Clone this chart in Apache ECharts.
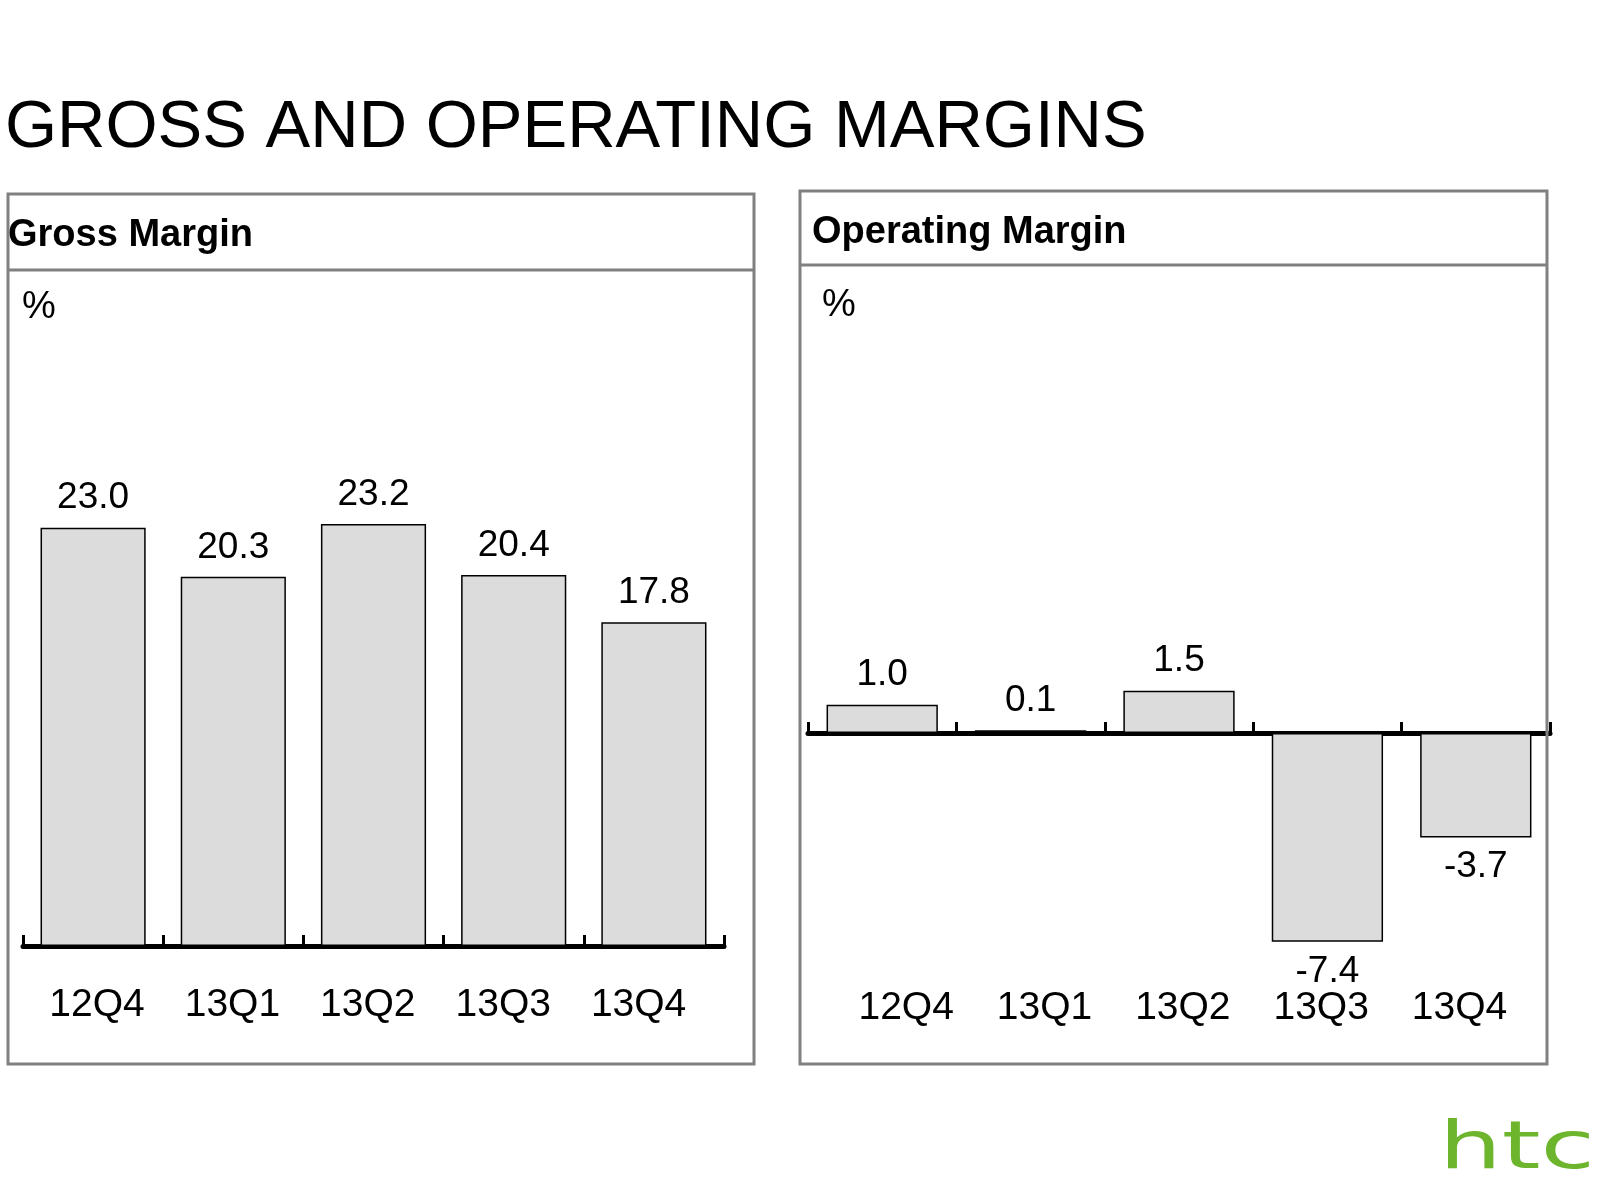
<!DOCTYPE html>
<html>
<head>
<meta charset="utf-8">
<script src="https://cdn.jsdelivr.net/npm/echarts@6/dist/echarts.min.js"></script>
<style>
  html, body { margin: 0; padding: 0; background: #ffffff; }
  #chart { width: 1600px; height: 1200px; }
</style>
</head>
<body>
<div id="chart"></div>
<script>
// ---- Data ----
var quarters = ['12Q4', '13Q1', '13Q2', '13Q3', '13Q4'];
var grossMargin = [23.0, 20.3, 23.2, 20.4, 17.8];
var operatingMargin = [1.0, 0.1, 1.5, -7.4, -3.7];
var mainTitle = 'GROSS AND OPERATING MARGINS';
var leftPanelTitle = 'Gross Margin';
var rightPanelTitle = 'Operating Margin';
var unitLabel = '%';
var logoText = 'htc';

var SANS = "'Liberation Sans', Arial, sans-serif";

var chart = echarts.init(document.getElementById('chart'), null, { renderer: 'canvas' });

function barData(values) {
  return values.map(function (v) {
    return { value: v, label: { position: v < 0 ? 'bottom' : 'top' } };
  });
}

var barStyle = { color: '#dcdcdc', borderColor: '#000000', borderWidth: 1.5 };
var labelStyle = {
  show: true, distance: 11, color: '#000', fontFamily: SANS, fontSize: 37,
  formatter: function (p) { return p.value.toFixed(1); }
};

function lineAxis(gridIndex, onZero) {
  return {
    type: 'category', gridIndex: gridIndex, data: quarters, position: 'bottom',
    axisLine: { show: true, onZero: onZero, lineStyle: { color: '#000', width: 5 } },
    axisTick: { show: true, inside: true, length: 11, lineStyle: { color: '#000', width: 3 } },
    axisLabel: { show: false },
    splitLine: { show: false }
  };
}
function labelAxis(gridIndex, margin) {
  return {
    type: 'category', gridIndex: gridIndex, data: quarters, position: 'bottom',
    axisLine: { show: false, onZero: false },
    axisTick: { show: false },
    axisLabel: { show: true, margin: margin, color: '#000', fontFamily: SANS, fontSize: 39 },
    splitLine: { show: false }
  };
}

var option = {
  backgroundColor: '#ffffff',
  animation: false,
  grid: [
    { left: 23, top: 400.4, width: 701, height: 545.6 },     // gross bars
    { left: 808, top: 450.8, width: 742, height: 522.1 },    // operating bars
    { left: 29.3, top: 400.4, width: 677, height: 545.6 },   // gross category labels
    { left: 837, top: 450.8, width: 691.7, height: 522.1 }   // operating category labels
  ],
  xAxis: [
    lineAxis(0, false),
    lineAxis(1, true),
    labelAxis(2, 40),
    labelAxis(3, 16)
  ],
  yAxis: [
    { type: 'value', gridIndex: 0, min: 0, max: 30, show: false, splitLine: { show: false } },
    { type: 'value', gridIndex: 1, min: -8.5, max: 10, show: false, splitLine: { show: false } },
    { type: 'value', gridIndex: 2, min: 0, max: 30, show: false, splitLine: { show: false } },
    { type: 'value', gridIndex: 3, min: -8.5, max: 10, show: false, splitLine: { show: false } }
  ],
  series: [
    {
      name: leftPanelTitle, type: 'bar', xAxisIndex: 0, yAxisIndex: 0,
      data: barData(grossMargin), barWidth: '75%',
      itemStyle: barStyle, label: labelStyle
    },
    {
      name: rightPanelTitle, type: 'bar', xAxisIndex: 1, yAxisIndex: 1,
      data: barData(operatingMargin), barWidth: '75%',
      itemStyle: barStyle, label: labelStyle
    }
  ],
  graphic: [
    // main title
    { type: 'text', left: 5, top: 95, z: 10,
      style: { text: mainTitle, fill: '#000', font: '67px ' + SANS } },
    // left panel frame
    { type: 'rect', z: 1, shape: { x: 8, y: 194, width: 746, height: 870 },
      style: { fill: null, stroke: '#808080', lineWidth: 3 } },
    { type: 'line', z: 1, shape: { x1: 8, y1: 270, x2: 754, y2: 270 },
      style: { stroke: '#808080', lineWidth: 3 } },
    { type: 'text', left: 8, top: 217, z: 10,
      style: { text: leftPanelTitle, fill: '#000', font: 'bold 38px ' + SANS } },
    { type: 'text', left: 22, top: 289, z: 10,
      style: { text: unitLabel, fill: '#000', font: '38px ' + SANS } },
    // right panel frame
    { type: 'rect', z: 1, shape: { x: 800, y: 191, width: 747, height: 873 },
      style: { fill: null, stroke: '#808080', lineWidth: 3 } },
    { type: 'line', z: 1, shape: { x1: 800, y1: 265, x2: 1547, y2: 265 },
      style: { stroke: '#808080', lineWidth: 3 } },
    { type: 'text', left: 812, top: 214, z: 10,
      style: { text: rightPanelTitle, fill: '#000', font: 'bold 38px ' + SANS } },
    { type: 'text', left: 822, top: 287, z: 10,
      style: { text: unitLabel, fill: '#000', font: '38px ' + SANS } },
    // logo
    { type: 'text', x: 1439, y: 1118, scaleX: 1.5, z: 10,
      style: { text: logoText, fill: '#6cb52d', font: '66px "DejaVu Sans", sans-serif' } }
  ]
};

chart.setOption(option);
</script>
</body>
</html>
